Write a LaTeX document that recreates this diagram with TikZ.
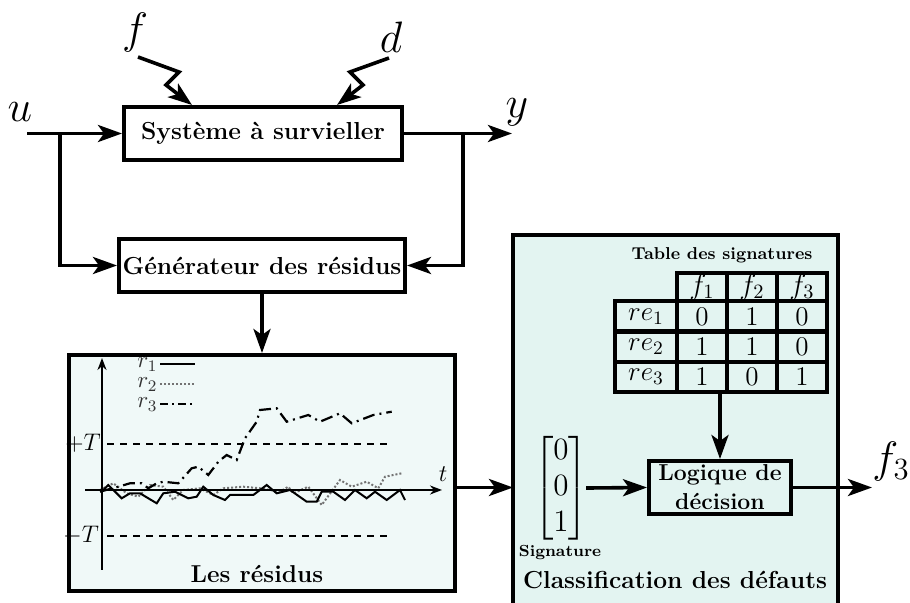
\RequirePackage{fix-cm}
\documentclass[tikz,border=0pt]{standalone}
\usepackage{amsmath}
\usetikzlibrary{arrows.meta}
\definecolor{resfill}{HTML}{F0F9F8}
\definecolor{clsfill}{HTML}{E3F4F1}
\tikzset{
  box/.style={draw, line width=2pt, inner sep=0pt, align=center,
    font=\fontsize{12.3}{14}\selectfont\bfseries},
  conn/.style={line width=1.8pt, -{Stealth[length=12pt,width=8.5pt,inset=3pt]}},
  biglabel/.style={inner sep=0pt, font=\fontsize{22}{26}\selectfont},
  cell/.style={draw, line width=2pt, inner sep=0pt, minimum width=25pt,
    minimum height=15pt, font=\fontsize{13.5}{15}\selectfont},
  rowlab/.style={cell, minimum width=31pt},
  plotline/.style={line width=1pt},
  axis/.style={line width=1pt, -{Stealth[length=6pt,width=4.5pt]}},
  thr/.style={line width=0.9pt, dash pattern=on 3.5pt off 3pt},
  small/.style={inner sep=0pt, font=\fontsize{12}{14}\selectfont},
  legend/.style={inner sep=0pt, anchor=base west, black!80, font=\fontsize{11.5}{13}\selectfont},
}
\begin{document}
\begin{tikzpicture}[x=0.5pt,y=-0.5pt]
\useasboundingbox (0,0) rectangle (910,603);

% ---- top blocks
\node[box, minimum width=139pt, minimum height=26.5pt] (sys) at (263,133.5) {Système à survieller};
\node[box, minimum width=143pt, minimum height=26.5pt] (gen) at (262,265.5) {Générateur des résidus};

\node[biglabel] (u) at (20,112) {$u$};
\node[biglabel] (y) at (517,112) {$y$};
\node[biglabel] (f) at (135,33) {$f$};
\node[biglabel] (d) at (391,37) {$d$};

\coordinate (uin) at (27,133.5);
\coordinate (ub) at (60,133.5);
\coordinate (yout) at (512,133.5);
\coordinate (yb) at (463,133.5);
\draw[conn] (uin) -- (sys.west);
\draw[conn] (ub) |- (gen.west);
\draw[conn] (sys.east) -- (yout);
\draw[conn] (yb) |- (gen.east);

\coordinate (fs) at (138,57);
\coordinate (fe) at (192,105);
\coordinate (ds) at (389,58);
\coordinate (de) at (337,105);
\draw[conn] (fs) -- (179,72) -- (166,85) -- (fe);
\draw[conn] (ds) -- (350,72) -- (363,85) -- (de);

% ---- residues box
\node[draw, fill=resfill, line width=2pt, minimum width=193pt, minimum height=118pt, inner sep=0pt] (res) at (262,473) {};
\draw[conn] (gen.south) -- (res.north);

% threshold lines
\draw[thr] (107,444) -- (393,444);
\draw[thr] (107,536) -- (393,536);
\node[small] (pT) at (83,443) {$+T$};
\node[small] (mT) at (81,535) {$-T$};

% curves
\draw[black!55, densely dotted, line width=1pt] plot coordinates {
(100,490) (113.3,483.3) (126.7,493.3) (138.3,496.7) (150,485) (163.3,486.7) (173.3,500) (183.3,490) (200,488.3) (213.3,495) (223.3,488.3) (243.3,486.7) (260,488.3) (280,491.7) (288.3,486.7) (293.3,493.3) (308.3,486.7) (321.7,505) (340,480) (351.7,486.7) (366.7,481.7) (378.3,488.3) (385,476.7) (401.7,473.3)};
\draw[dash pattern=on 6pt off 2.5pt on 1pt off 2.5pt, line width=1.1pt] plot coordinates {
(100,491.7) (118.3,486.7) (130,483.3) (141.7,483.3) (148.3,488.3) (156.7,483.3) (163.3,481.7) (178.3,483.3) (191.7,468.3) (198.3,466.7) (208.3,475) (218.3,461.7) (226.7,455) (236.7,460) (245,438.3) (256.7,421.7) (260,410) (276.7,408.3) (286.7,421.7) (308.3,415) (320,421.7) (340,413.3) (351.7,423.3) (373.3,415) (391.7,411.7)};
\draw[plotline] plot coordinates {
(101.7,491.7) (108.3,485) (121.7,498.3) (130,493.3) (140,493.3) (156.7,503.3) (163.3,493.3) (175,491.7) (188.3,498.3) (196.7,496.7) (203.3,486.7) (213.3,495) (225,500) (230,495) (253.3,495) (266.7,485) (276.7,493.3) (290,490) (306.7,501.7) (316.7,501.7) (321.7,491.7) (333.3,491.7) (345,500) (355,490) (366.7,498.3) (375,491.7) (386.7,500) (400,490) (405,500)};

% axes
\draw[axis] (102,570) -- (102,358);
\draw[axis] (85,490) -- (442,490);
\node[small] (t) at (443,474) {$t$};

% legend
\node[legend] (l1) at (137,368) {$r_1$};
\node[legend] (l2) at (137,388) {$r_2$};
\node[legend] (l3) at (137,408) {$r_3$};
\draw[plotline] (160,364) -- (195,364);
\draw[black!55, densely dotted, line width=1pt] (160,384) -- (195,384);
\draw[dash pattern=on 4pt off 2pt on 1pt off 2pt, line width=1pt] (160,404) -- (195,404);

\node[inner sep=0pt, font=\fontsize{12.2}{14}\selectfont\bfseries] (lr) at (257,574) {Les résidus};

% ---- classification box
\node[fill=clsfill, minimum width=162pt, minimum height=184pt, inner sep=0pt, anchor=north west] (cls) at (513,235) {};
\draw[line width=2pt] (cls.south west) -- (cls.north west) -- (cls.north east) -- (cls.south east);

\node[inner sep=0pt, font=\fontsize{8.6}{10}\selectfont\bfseries] (tt) at (722,255) {Table des signatures};

% table
\node[cell, minimum height=14pt, font=\fontsize{14.5}{16}\selectfont] (h1) at (702,287) {$f_1$};
\node[cell, minimum height=14pt, font=\fontsize{14.5}{16}\selectfont] (h2) at (752,287) {$f_2$};
\node[cell, minimum height=14pt, font=\fontsize{14.5}{16}\selectfont] (h3) at (802,287) {$f_3$};
\node[rowlab] (r1) at (646,316.5) {$re_1$};
\node[cell] (c11) at (702,316.5) {$0$};
\node[cell] (c12) at (752,316.5) {$1$};
\node[cell] (c13) at (802,316.5) {$0$};
\node[rowlab] (r2) at (646,347) {$re_2$};
\node[cell] (c21) at (702,347) {$1$};
\node[cell] (c22) at (752,347) {$1$};
\node[cell] (c23) at (802,347) {$0$};
\node[rowlab] (r3) at (646,377) {$re_3$};
\node[cell] (c31) at (702,377) {$1$};
\node[cell] (c32) at (752,377) {$0$};
\node[cell] (c33) at (802,377) {$1$};

\node[box, minimum width=71pt, minimum height=26.5pt, font=\fontsize{11.5}{14.5}\selectfont\bfseries] (logic) at (720,487.5) {Logique de\\décision};
\draw[conn] (logic.north |- c31.south) -- (logic.north);

\node[inner xsep=0pt, inner ysep=2pt, font=\fontsize{15.5}{18}\selectfont] (sig) at (561,488) {$\begin{bmatrix}0\\0\\1\end{bmatrix}$};
\node[inner sep=0pt, font=\fontsize{8}{10}\selectfont\bfseries] (sigl) at (560,553) {Signature};
\draw[conn, shorten <=-1pt] (sig.east) -- (logic.west);

\draw[conn] (res.east |- logic) -- (cls.west |- logic);

\coordinate (out) at (872,487.5);
\draw[conn] (logic.east) -- (out);
\node[biglabel] (f3) at (891,462) {$f_3$};

\node[inner sep=0pt, font=\fontsize{12.3}{14}\selectfont\bfseries] (cl) at (675,580) {Classification des défauts};
\end{tikzpicture}
\end{document}
